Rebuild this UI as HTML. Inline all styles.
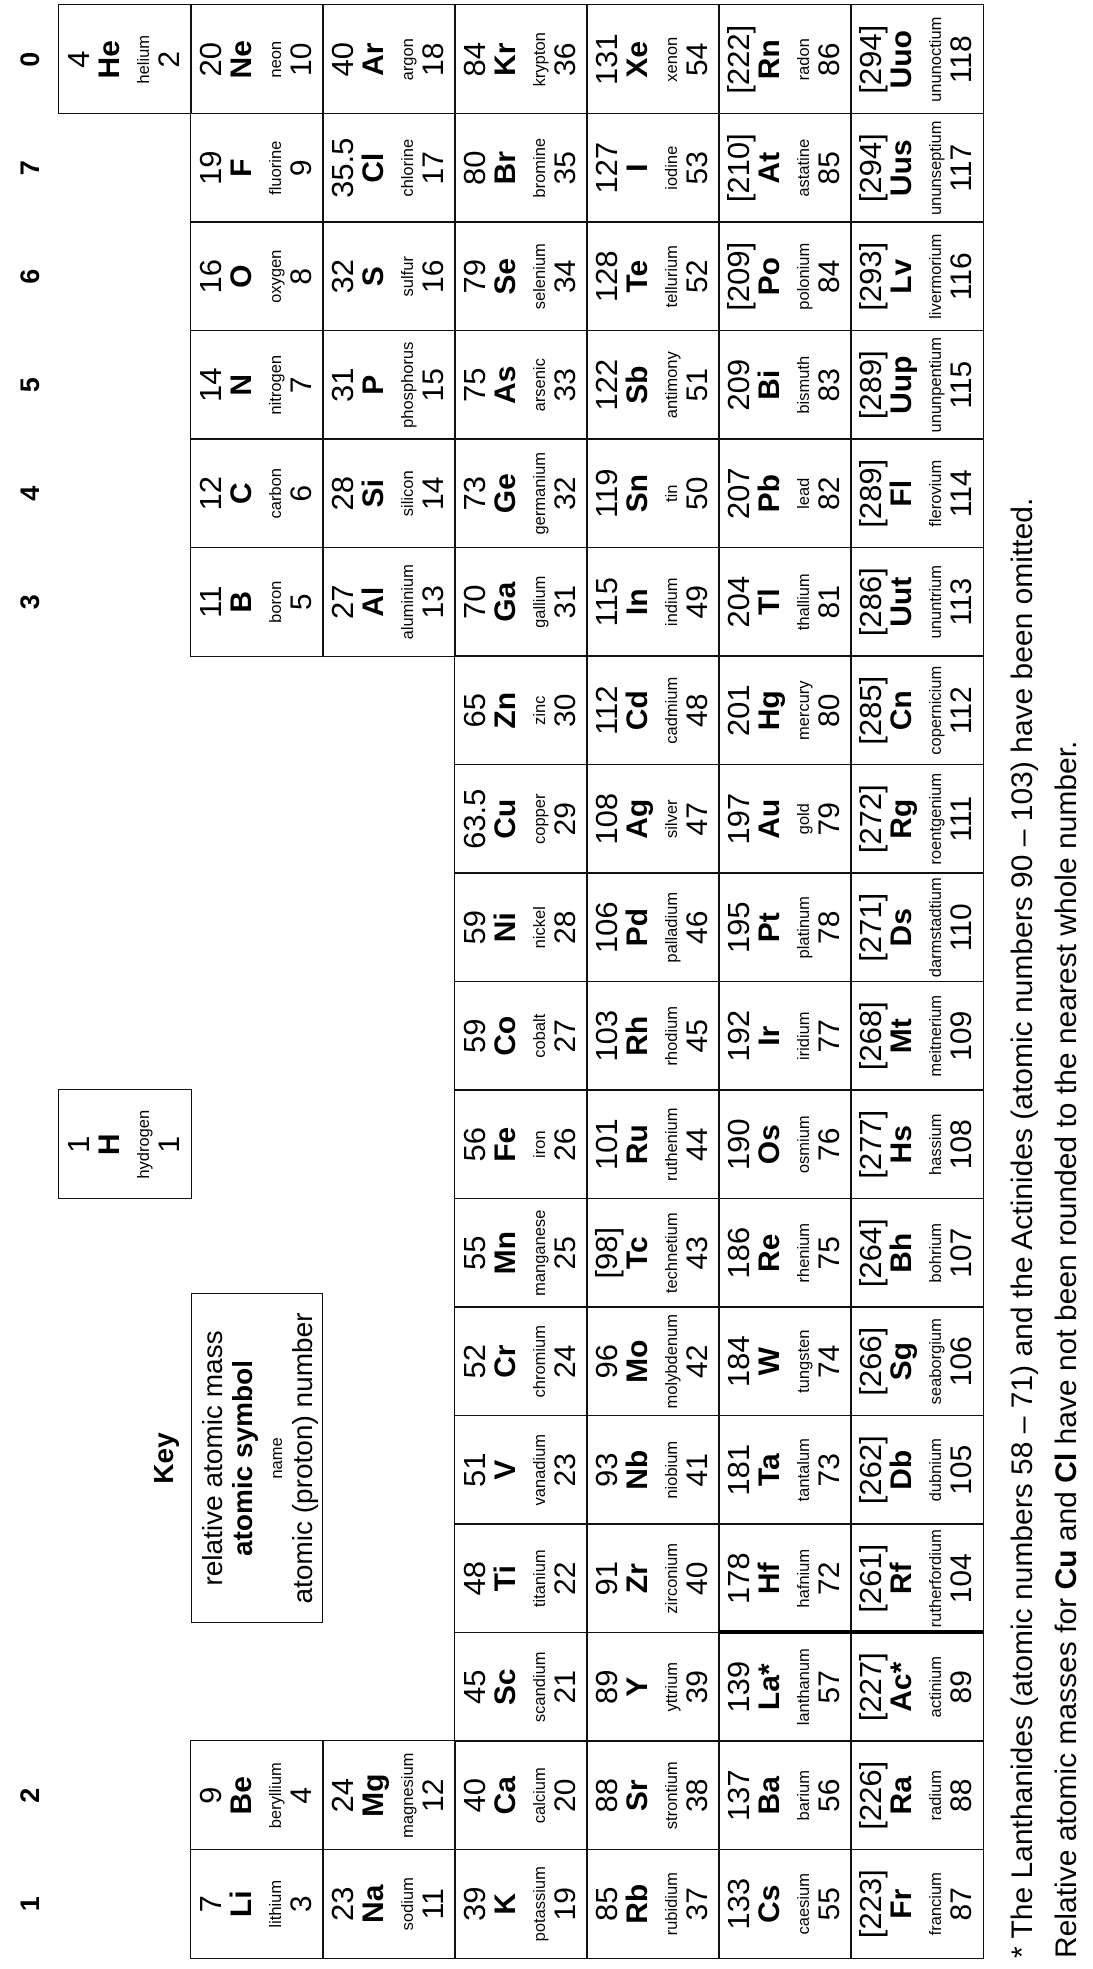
<!DOCTYPE html>
<html><head><meta charset="utf-8">
<style>
html,body{margin:0;padding:0;background:#fff;width:1093px;height:1969px;overflow:hidden;position:relative}
#L{position:absolute;left:0;top:0;width:1969px;height:1093px;transform-origin:0 0;transform:translate(0,1969px) rotate(-90deg);font-family:"Liberation Sans",Arial,sans-serif;color:#000}
.c{position:absolute;width:110px;height:133.5px;border:1.5px solid #111;box-sizing:border-box;margin-left:-0.75px;margin-top:-0.75px;background:transparent}
.c i,.c b,.c s,.c u{position:absolute;left:0;right:0;text-align:center;font-style:normal;text-decoration:none;white-space:nowrap}
.c i{top:4px;font-size:31px;line-height:32px}
.c b{top:35px;font-size:30px;line-height:32px;font-weight:bold}
.c s{top:76px;font-size:16.5px;line-height:18px}
.c u{top:95px;font-size:30px;line-height:32px}
.g0{left:11px}.g1{left:119.5px}.g2{left:228px}.g3{left:336.5px}.g4{left:445px}.g5{left:553.5px}.g6{left:662px}.g7{left:770.5px}.g8{left:879px}.g9{left:987.5px}.g10{left:1096px}.g11{left:1204.5px}.g12{left:1313px}.g13{left:1421.5px}.g14{left:1530px}.g15{left:1638.5px}.g16{left:1747px}.g17{left:1855.5px}
.p1{top:59px}.p2{top:191px}.p3{top:323px}.p4{top:455px}.p5{top:587px}.p6{top:719px}.p7{top:851px}
.gl{position:absolute;top:14px;width:108.5px;text-align:center;font-weight:bold;font-size:27px;line-height:32px}
.fn{position:absolute;left:11px;font-size:30px;line-height:34px;white-space:nowrap}
</style></head><body>
<div id="L">
<div class="gl g0">1</div><div class="gl g1">2</div><div class="gl g12">3</div><div class="gl g13">4</div><div class="gl g14">5</div><div class="gl g15">6</div><div class="gl g16">7</div><div class="gl g17">0</div>

<div style="position:absolute;left:346px;width:330px;top:146px;text-align:center;font-weight:bold;font-size:28px;line-height:36px">Key</div>
<div style="position:absolute;left:346px;top:191px;width:330px;height:132px;border:1.5px solid #111;box-sizing:border-box;text-align:center">
<div style="position:absolute;left:0;right:0;top:5px;font-size:28px;line-height:32px">relative atomic mass</div>
<div style="position:absolute;left:0;right:0;top:35px;font-size:28px;line-height:32px;font-weight:bold">atomic symbol</div>
<div style="position:absolute;left:0;right:0;top:76px;font-size:16.5px;line-height:18px">name</div>
<div style="position:absolute;left:0;right:0;top:95px;font-size:28px;line-height:32px">atomic (proton) number</div>
</div>

<div class="c g7 p1"><i>1</i><b>H</b><s>hydrogen</s><u>1</u></div>
<div class="c g17 p1"><i>4</i><b>He</b><s>helium</s><u>2</u></div>

<div class="c g0 p2"><i>7</i><b>Li</b><s>lithium</s><u>3</u></div>
<div class="c g1 p2"><i>9</i><b>Be</b><s>beryllium</s><u>4</u></div>
<div class="c g12 p2"><i>11</i><b>B</b><s>boron</s><u>5</u></div>
<div class="c g13 p2"><i>12</i><b>C</b><s>carbon</s><u>6</u></div>
<div class="c g14 p2"><i>14</i><b>N</b><s>nitrogen</s><u>7</u></div>
<div class="c g15 p2"><i>16</i><b>O</b><s>oxygen</s><u>8</u></div>
<div class="c g16 p2"><i>19</i><b>F</b><s>fluorine</s><u>9</u></div>
<div class="c g17 p2"><i>20</i><b>Ne</b><s>neon</s><u>10</u></div>

<div class="c g0 p3"><i>23</i><b>Na</b><s>sodium</s><u>11</u></div>
<div class="c g1 p3"><i>24</i><b>Mg</b><s>magnesium</s><u>12</u></div>
<div class="c g12 p3"><i>27</i><b>Al</b><s>aluminium</s><u>13</u></div>
<div class="c g13 p3"><i>28</i><b>Si</b><s>silicon</s><u>14</u></div>
<div class="c g14 p3"><i>31</i><b>P</b><s>phosphorus</s><u>15</u></div>
<div class="c g15 p3"><i>32</i><b>S</b><s>sulfur</s><u>16</u></div>
<div class="c g16 p3"><i>35.5</i><b>Cl</b><s>chlorine</s><u>17</u></div>
<div class="c g17 p3"><i>40</i><b>Ar</b><s>argon</s><u>18</u></div>

<div class="c g0 p4"><i>39</i><b>K</b><s>potassium</s><u>19</u></div>
<div class="c g1 p4"><i>40</i><b>Ca</b><s>calcium</s><u>20</u></div>
<div class="c g2 p4"><i>45</i><b>Sc</b><s>scandium</s><u>21</u></div>
<div class="c g3 p4"><i>48</i><b>Ti</b><s>titanium</s><u>22</u></div>
<div class="c g4 p4"><i>51</i><b>V</b><s>vanadium</s><u>23</u></div>
<div class="c g5 p4"><i>52</i><b>Cr</b><s>chromium</s><u>24</u></div>
<div class="c g6 p4"><i>55</i><b>Mn</b><s>manganese</s><u>25</u></div>
<div class="c g7 p4"><i>56</i><b>Fe</b><s>iron</s><u>26</u></div>
<div class="c g8 p4"><i>59</i><b>Co</b><s>cobalt</s><u>27</u></div>
<div class="c g9 p4"><i>59</i><b>Ni</b><s>nickel</s><u>28</u></div>
<div class="c g10 p4"><i>63.5</i><b>Cu</b><s>copper</s><u>29</u></div>
<div class="c g11 p4"><i>65</i><b>Zn</b><s>zinc</s><u>30</u></div>
<div class="c g12 p4"><i>70</i><b>Ga</b><s>gallium</s><u>31</u></div>
<div class="c g13 p4"><i>73</i><b>Ge</b><s>germanium</s><u>32</u></div>
<div class="c g14 p4"><i>75</i><b>As</b><s>arsenic</s><u>33</u></div>
<div class="c g15 p4"><i>79</i><b>Se</b><s>selenium</s><u>34</u></div>
<div class="c g16 p4"><i>80</i><b>Br</b><s>bromine</s><u>35</u></div>
<div class="c g17 p4"><i>84</i><b>Kr</b><s>krypton</s><u>36</u></div>

<div class="c g0 p5"><i>85</i><b>Rb</b><s>rubidium</s><u>37</u></div>
<div class="c g1 p5"><i>88</i><b>Sr</b><s>strontium</s><u>38</u></div>
<div class="c g2 p5"><i>89</i><b>Y</b><s>yttrium</s><u>39</u></div>
<div class="c g3 p5"><i>91</i><b>Zr</b><s>zirconium</s><u>40</u></div>
<div class="c g4 p5"><i>93</i><b>Nb</b><s>niobium</s><u>41</u></div>
<div class="c g5 p5"><i>96</i><b>Mo</b><s>molybdenum</s><u>42</u></div>
<div class="c g6 p5"><i>[98]</i><b>Tc</b><s>technetium</s><u>43</u></div>
<div class="c g7 p5"><i>101</i><b>Ru</b><s>ruthenium</s><u>44</u></div>
<div class="c g8 p5"><i>103</i><b>Rh</b><s>rhodium</s><u>45</u></div>
<div class="c g9 p5"><i>106</i><b>Pd</b><s>palladium</s><u>46</u></div>
<div class="c g10 p5"><i>108</i><b>Ag</b><s>silver</s><u>47</u></div>
<div class="c g11 p5"><i>112</i><b>Cd</b><s>cadmium</s><u>48</u></div>
<div class="c g12 p5"><i>115</i><b>In</b><s>indium</s><u>49</u></div>
<div class="c g13 p5"><i>119</i><b>Sn</b><s>tin</s><u>50</u></div>
<div class="c g14 p5"><i>122</i><b>Sb</b><s>antimony</s><u>51</u></div>
<div class="c g15 p5"><i>128</i><b>Te</b><s>tellurium</s><u>52</u></div>
<div class="c g16 p5"><i>127</i><b>I</b><s>iodine</s><u>53</u></div>
<div class="c g17 p5"><i>131</i><b>Xe</b><s>xenon</s><u>54</u></div>

<div class="c g0 p6"><i>133</i><b>Cs</b><s>caesium</s><u>55</u></div>
<div class="c g1 p6"><i>137</i><b>Ba</b><s>barium</s><u>56</u></div>
<div class="c g2 p6"><i>139</i><b>La*</b><s>lanthanum</s><u>57</u></div>
<div class="c g3 p6"><i>178</i><b>Hf</b><s>hafnium</s><u>72</u></div>
<div class="c g4 p6"><i>181</i><b>Ta</b><s>tantalum</s><u>73</u></div>
<div class="c g5 p6"><i>184</i><b>W</b><s>tungsten</s><u>74</u></div>
<div class="c g6 p6"><i>186</i><b>Re</b><s>rhenium</s><u>75</u></div>
<div class="c g7 p6"><i>190</i><b>Os</b><s>osmium</s><u>76</u></div>
<div class="c g8 p6"><i>192</i><b>Ir</b><s>iridium</s><u>77</u></div>
<div class="c g9 p6"><i>195</i><b>Pt</b><s>platinum</s><u>78</u></div>
<div class="c g10 p6"><i>197</i><b>Au</b><s>gold</s><u>79</u></div>
<div class="c g11 p6"><i>201</i><b>Hg</b><s>mercury</s><u>80</u></div>
<div class="c g12 p6"><i>204</i><b>Tl</b><s>thallium</s><u>81</u></div>
<div class="c g13 p6"><i>207</i><b>Pb</b><s>lead</s><u>82</u></div>
<div class="c g14 p6"><i>209</i><b>Bi</b><s>bismuth</s><u>83</u></div>
<div class="c g15 p6"><i>[209]</i><b>Po</b><s>polonium</s><u>84</u></div>
<div class="c g16 p6"><i>[210]</i><b>At</b><s>astatine</s><u>85</u></div>
<div class="c g17 p6"><i>[222]</i><b>Rn</b><s>radon</s><u>86</u></div>

<div class="c g0 p7"><i>[223]</i><b>Fr</b><s>francium</s><u>87</u></div>
<div class="c g1 p7"><i>[226]</i><b>Ra</b><s>radium</s><u>88</u></div>
<div class="c g2 p7"><i>[227]</i><b>Ac*</b><s>actinium</s><u>89</u></div>
<div class="c g3 p7"><i>[261]</i><b>Rf</b><s>rutherfordium</s><u>104</u></div>
<div class="c g4 p7"><i>[262]</i><b>Db</b><s>dubnium</s><u>105</u></div>
<div class="c g5 p7"><i>[266]</i><b>Sg</b><s>seaborgium</s><u>106</u></div>
<div class="c g6 p7"><i>[264]</i><b>Bh</b><s>bohrium</s><u>107</u></div>
<div class="c g7 p7"><i>[277]</i><b>Hs</b><s>hassium</s><u>108</u></div>
<div class="c g8 p7"><i>[268]</i><b>Mt</b><s>meitnerium</s><u>109</u></div>
<div class="c g9 p7"><i>[271]</i><b>Ds</b><s>darmstadtium</s><u>110</u></div>
<div class="c g10 p7"><i>[272]</i><b>Rg</b><s>roentgenium</s><u>111</u></div>
<div class="c g11 p7"><i>[285]</i><b>Cn</b><s>copernicium</s><u>112</u></div>
<div class="c g12 p7"><i>[286]</i><b>Uut</b><s>ununtrium</s><u>113</u></div>
<div class="c g13 p7"><i>[289]</i><b>Fl</b><s>flerovium</s><u>114</u></div>
<div class="c g14 p7"><i>[289]</i><b>Uup</b><s>ununpentium</s><u>115</u></div>
<div class="c g15 p7"><i>[293]</i><b>Lv</b><s>livermorium</s><u>116</u></div>
<div class="c g16 p7"><i>[294]</i><b>Uus</b><s>ununseptium</s><u>117</u></div>
<div class="c g17 p7"><i>[294]</i><b>Uuo</b><s>ununoctium</s><u>118</u></div>

<div style="position:absolute;left:334.5px;top:719px;width:4px;height:264px;background:#000"></div>

<div class="fn" style="top:1006px">* The Lanthanides (atomic numbers 58 – 71) and the Actinides (atomic numbers 90 – 103) have been omitted.</div>
<div class="fn" style="top:1050px">Relative atomic masses for <b>Cu</b> and <b>Cl</b> have not been rounded to the nearest whole number.</div>
</div>
</body></html>
